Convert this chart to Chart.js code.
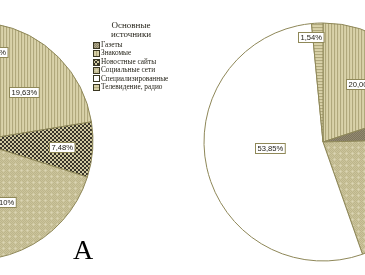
<!DOCTYPE html>
<html><head><meta charset="utf-8">
<script src="https://cdn.jsdelivr.net/npm/chart.js@4/dist/chart.umd.min.js"></script>
<style>
html,body{margin:0;padding:0;background:#fff;}
body{width:365px;height:275px;overflow:hidden;position:relative;}
.pie{position:absolute;width:260px;height:260px;}
#legend{position:absolute;left:93px;top:21px;font-family:"Liberation Serif","Times New Roman",serif;color:#26241a;}
#legend .title{font-size:9px;line-height:9px;text-align:center;width:76px;}
#legend .item{font-size:8.3px;line-height:8.45px;height:8.45px;white-space:nowrap;display:flex;align-items:center;}
#legend .item span{display:inline-block;transform:scaleX(0.88);transform-origin:left center;}
#legend canvas{width:7px;height:7px;margin-right:1px;box-sizing:border-box;}
#letter{position:absolute;left:73px;top:236px;font-family:"Liberation Serif",serif;font-size:28px;color:#000;line-height:28px;}
</style></head>
<body>
<div class="pie" style="left:-156px;top:11px"><canvas id="pieA" width="260" height="260"></canvas></div>
<div class="pie" style="left:193px;top:12px"><canvas id="pieB" width="260" height="260"></canvas></div>
<div id="legend"></div>
<div id="letter">A</div>
<script>
// ---- data ----
const categories = ["Газеты","Знакомые","Новостные сайты","Социальные сети","Специализированные","Телевидение, радио"];
const valuesA = [2.80, 19.63, 7.48, 27.10, 41.12, 1.87];
const valuesB = [0, 20.00, 4.62, 20.00, 53.85, 1.54];
const labelsA = ["2,80%","19,63%","7,48%","27,10%","41,12%","1,87%"];
const labelsB = ["","20,00%","4,62%","20,00%","53,85%","1,54%"];
const legendTitle = ["Основные","источники"];

// ---- styles ----
function tile(w,h,fn){const c=document.createElement('canvas');c.width=w;c.height=h;const x=c.getContext('2d');
  for(let i=0;i<w;i++)for(let j=0;j<h;j++){x.fillStyle=fn(i,j);x.fillRect(i,j,1,1);} return c;}
const tiles = {
  gaz: tile(2,2,(i,j)=>((i+j)%2?'#b0a888':'#8c856c')),
  vert: tile(3,1,(i)=>i===0?'#b0a87c':(i===1?'#d5cea4':'#d9d2aa')),
  check: tile(4,4,(i,j)=>(((i>>1)+(j>>1))%2?'#d0c99f':'#38342a')),
  social: tile(6,6,(i,j)=>{const d=Math.abs(i-3)+Math.abs(j-3); if(d===0)return '#dcd6b6'; if(d===1)return '#d3cca8'; return (i+j)%2?'#bdb58b':'#cbc49b';}),
  white: tile(1,1,()=>'#ffffff'),
  horiz: tile(1,3,(i,j)=>j===0?'#b0a87c':(j===1?'#d5cea4':'#d9d2aa')),
  darkB: tile(2,2,(i,j)=>((i+j)%2?'#938a70':'#7f765e'))
};
function pat(c){return c.getContext('2d').createPattern(c,'repeat');}
const fillsA = [tiles.gaz,tiles.vert,tiles.check,tiles.social,tiles.white,tiles.horiz];
const fillsB = [tiles.gaz,tiles.vert,tiles.darkB,tiles.social,tiles.white,tiles.horiz];
const labelPlaceA = [[0.77,8],[0.59,0],[0.74,0],[0.56,0],[0.6,0],[0.8,0]]; // [radius fraction, angle shift deg]
const labelPlaceB = [[0.6,0],[0.58,-3],[0.7,0],[0.6,0],[0.45,6],[0.89,-4]];

const labelPlugin = {
  id:'pctLabels',
  afterDatasetsDraw(chart){
    const ctx=chart.ctx; const meta=chart.getDatasetMeta(0);
    const txt=chart.options.plugins.pctLabels.texts, place=chart.options.plugins.pctLabels.place;
    ctx.save();
    ctx.font='7.6px "Liberation Sans", Arial, sans-serif';
    ctx.textAlign='center'; ctx.textBaseline='middle';
    meta.data.forEach((arc,i)=>{
      if(!txt[i]) return;
      const p=arc.getProps(['x','y','startAngle','endAngle','outerRadius'],true);
      const a=(p.startAngle+p.endAngle)/2 + place[i][1]*Math.PI/180;
      const r=p.outerRadius*place[i][0];
      const cx=p.x+Math.cos(a)*r, cy=p.y+Math.sin(a)*r;
      const w=ctx.measureText(txt[i]).width+4, h=10;
      const bx=Math.round(cx-w/2)+0.5, by=Math.round(cy-h/2)+0.5;
      ctx.fillStyle='#ffffff'; ctx.fillRect(bx,by,w,h);
      ctx.strokeStyle='#8f8858'; ctx.lineWidth=1; ctx.strokeRect(bx,by,w,h);
      ctx.fillStyle='#222018'; ctx.fillText(txt[i],bx+w/2,by+h/2+0.5);
    });
    ctx.restore();
  }
};

function makePie(id,values,fills,texts,place){
  new Chart(document.getElementById(id),{
    type:'pie',
    data:{labels:categories,datasets:[{data:values,backgroundColor:fills.map(pat),borderColor:'#8e8758',borderWidth:1,radius:119}]},
    options:{responsive:false,animation:false,layout:{padding:0},
      plugins:{legend:{display:false},tooltip:{enabled:false},pctLabels:{texts,place}}},
    plugins:[labelPlugin]
  });
}
makePie('pieA',valuesA,fillsA,labelsA,labelPlaceA);
makePie('pieB',valuesB,fillsB,labelsB,labelPlaceB);

// legend
const lg=document.getElementById('legend');
const t=document.createElement('div');t.className='title';t.innerHTML=legendTitle.join('<br>');lg.appendChild(t);
const sp=document.createElement('div');sp.style.height='2px';lg.appendChild(sp);
categories.forEach((c,i)=>{
  const it=document.createElement('div');it.className='item';
  const sw=document.createElement('canvas');sw.width=7;sw.height=7;
  const x=sw.getContext('2d');x.fillStyle=pat(fillsA[i]);x.fillRect(0,0,7,7);
  x.strokeStyle='#3a3722';x.lineWidth=1;x.strokeRect(0.5,0.5,6,6);
  it.appendChild(sw);const s=document.createElement('span');s.textContent=c;it.appendChild(s);lg.appendChild(it);
});
</script>
</body></html>
